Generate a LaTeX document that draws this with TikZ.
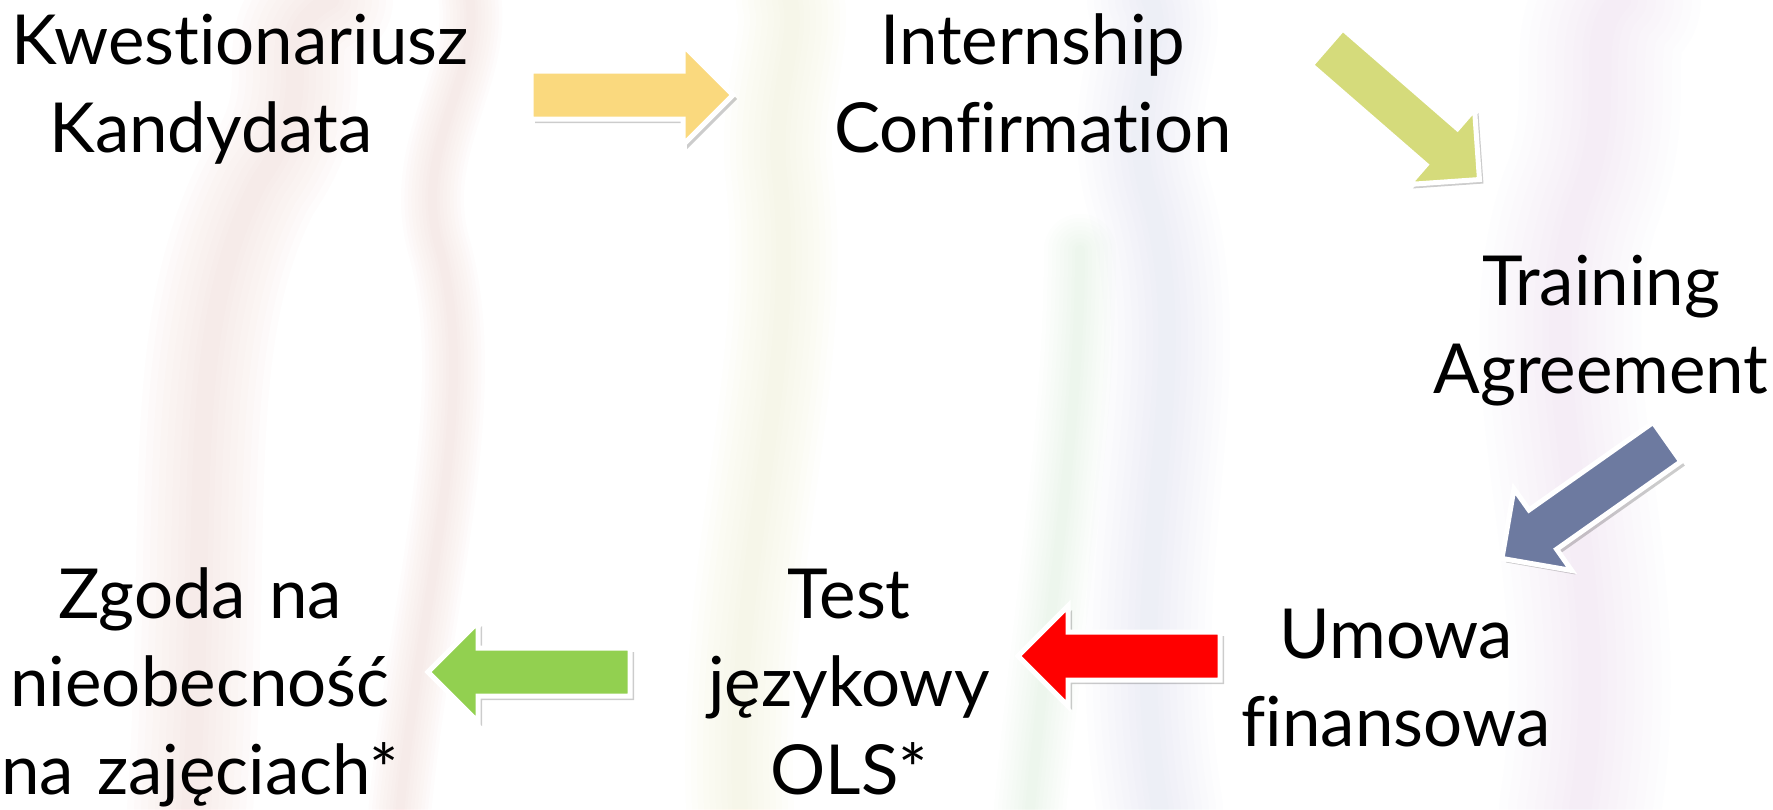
\documentclass[tikz,border=0pt]{standalone}
\usepackage{fontspec}
\setmainfont{Lato}[Ligatures={NoCommon}]
\definecolor{cYellow}{HTML}{FAD97E}
\definecolor{cOlive}{HTML}{D5DB7B}
\definecolor{cBlue}{HTML}{6D7AA0}
\definecolor{cRed}{HTML}{FF0000}
\definecolor{cGreen}{HTML}{92D050}
\definecolor{smRed}{HTML}{E0504A}
\definecolor{smYellow}{HTML}{E8C04A}
\definecolor{smBlue}{HTML}{7C9CC8}
\definecolor{smGreen}{HTML}{7CC07A}
\definecolor{smPurple}{HTML}{A88CD0}
\newcommand\blkarrow[4]{%
  \begin{scope}[shift={(#1,#2)}]
    \fill[arrowshadow, shift={(4,4)}, rotate=#3] (0,-24) -- (152,-24) -- (152,-50) -- (202,0) -- (152,50) -- (152,24) -- (0,24) -- cycle;
    \draw[arrowborder, fill=#4, rotate=#3] (0,-24) -- (152,-24) -- (152,-50) -- (202,0) -- (152,50) -- (152,24) -- (0,24) -- cycle;
  \end{scope}}
\newcommand\smoke[3]{%
  \foreach \w in {1.8,1.6,1.4,1.2,1.0,0.8,0.6,0.4,0.25}{%
    \draw[#1, line width=#2*\w pt, opacity=0.013, line cap=round] #3;}}
\begin{document}
\begin{tikzpicture}[x=1pt,y=-1pt,
  lbl/.style={text width=600pt, align=center, anchor=base, inner sep=0pt, font=\fontsize{69}{88}\selectfont},
  arrowborder/.style={draw=white, line width=5pt, line join=miter},
  arrowshadow/.style={fill=black, opacity=0.2}]
\useasboundingbox (0,0) rectangle (1773,809);
\fill[white] (0,0) rectangle (1773,809);
% faint smoke background
\smoke{smRed}{70}{(190,809) .. controls (210,520) and (180,330) .. (260,180) .. controls (330,80) and (260,40) .. (330,0)}
\smoke{smRed}{35}{(400,809) .. controls (420,600) and (480,400) .. (440,250) .. controls (410,150) and (480,80) .. (470,0)}
\smoke{smYellow}{60}{(740,809) .. controls (730,560) and (800,380) .. (780,180) .. controls (770,100) and (800,40) .. (790,0)}
\smoke{smGreen}{40}{(1030,809) .. controls (1050,600) and (1080,420) .. (1080,250)}
\smoke{smBlue}{70}{(1160,809) .. controls (1120,560) and (1200,380) .. (1150,200) .. controls (1120,100) and (1170,40) .. (1150,0)}
\smoke{smPurple}{90}{(1580,809) .. controls (1620,560) and (1520,380) .. (1580,200) .. controls (1620,100) and (1580,40) .. (1620,0)}
% arrows
\blkarrow{531}{95}{0}{cYellow}
\blkarrow{1327}{47}{-41}{cOlive}
\blkarrow{1667}{442}{-144.8}{cBlue}
\blkarrow{1220}{656}{180}{cRed}
\blkarrow{630}{672}{180}{cGreen}
% labels
\node[lbl] (kw) at (240,64.5) {Kwestionariusz\\\mbox{Kandydata\kern58pt}};
\node[lbl] (ic) at (1033,64.5) {Internship\\Confirmation};
\node[lbl] (ta) at (1601,305) {Training\\Agreement};
\node[lbl] (uf) at (1396,658) {Umowa\\finansowa};
\node[lbl] (tj) at (849,618.5) {Test\\językowy\\OLS*};
\node[lbl] (zg) at (200,618.5) {Zgoda na\\nieobecność\\na zajęciach*};
\end{tikzpicture}
\end{document}
